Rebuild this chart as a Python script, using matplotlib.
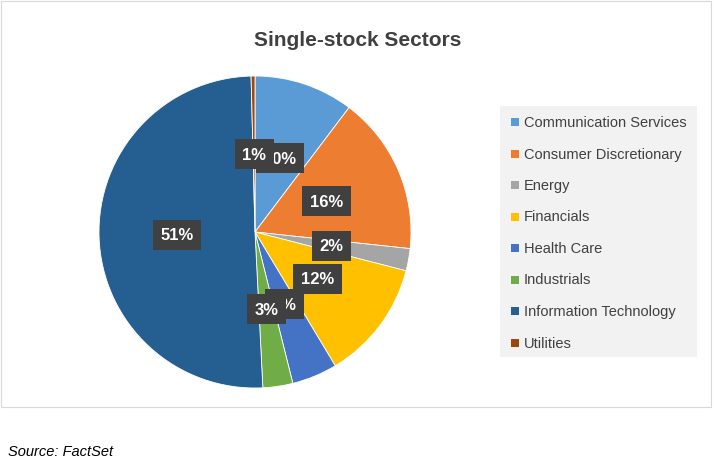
import matplotlib
matplotlib.use("Agg")
import matplotlib.pyplot as plt
import numpy as np
from matplotlib.patches import Rectangle

categories = ["Communication Services", "Consumer Discretionary", "Energy", "Financials",
              "Health Care", "Industrials", "Information Technology", "Utilities"]
values = [10.3, 16.4, 2.3, 12.4, 4.7, 3.1, 50.4, 0.4]
labels = ["10%", "16%", "2%", "12%", "5%", "3%", "51%", "1%"]
colors = ["#5b9bd5", "#ed7d31", "#a5a5a5", "#ffc000", "#4472c4", "#70ad47", "#255e91", "#9e480e"]

W, H = 716, 464
fig = plt.figure(figsize=(W/100, H/100), dpi=100)
fig.patches.append(Rectangle((1/W, 1 - 408/H), 710/W, 406/H, transform=fig.transFigure,
                             fill=False, edgecolor="#d9d9d9", lw=0.8))
fig.text(358/W, 1 - 40/H, "Single-stock Sectors", ha="center", va="center",
         fontsize=15, fontweight="bold", color="#404040", family="Liberation Sans")
fig.text(8/W, 1 - 452/H, "Source: FactSet", ha="left", va="center", fontsize=10.5,
         style="italic", family="Liberation Sans", color="#000000")

cx, cy, r = 255, 233, 156
ax = fig.add_axes([(cx - r)/W, 1 - (cy + r)/H, 2*r/W, 2*r/H])
wedges, _ = ax.pie(values, colors=colors, startangle=90, counterclock=False,
                   wedgeprops=dict(edgecolor="white", linewidth=0.6))
ax.set_xlim(-1, 1); ax.set_ylim(-1, 1); ax.set_aspect("equal")
for i, (w, lab) in enumerate(zip(wedges, labels)):
    ang = np.deg2rad((w.theta1 + w.theta2) / 2)
    d = 0.5
    z = 10 + i
    ax.text(d*np.cos(ang), d*np.sin(ang), lab, ha="center", va="center", fontsize=12,
            fontweight="bold", color="white", family="Liberation Sans", zorder=z,
            bbox=dict(boxstyle="square,pad=0.45", fc="#404040", ec="none"))

lx0, ly0, lw, lh = 500, 107, 197, 251
fig.patches.append(Rectangle((lx0/W, 1 - (ly0 + lh)/H), lw/W, lh/H, transform=fig.transFigure,
                             fc="#f2f2f2", ec="none"))
for i, (c, col) in enumerate(zip(categories, colors)):
    y = 123 + i * 31.5
    fig.patches.append(Rectangle((511/W, 1 - (y + 4)/H), 8/W, 8/H, transform=fig.transFigure,
                                 fc=col, ec="none"))
    fig.text(524/W, 1 - y/H, c, ha="left", va="center", fontsize=10.5,
             family="Liberation Sans", color="#404040")

fig.savefig("out.png", dpi=100)
